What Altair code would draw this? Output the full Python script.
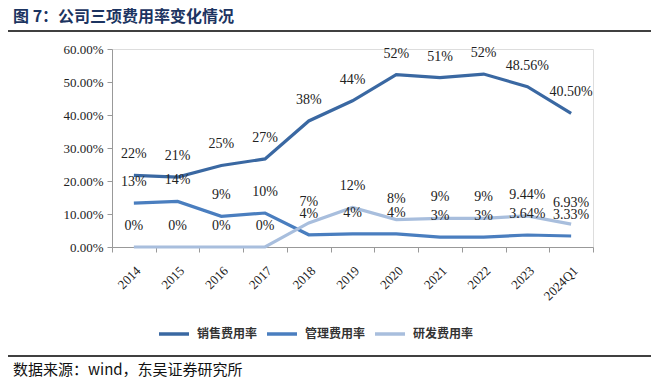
import altair as alt
import pandas as pd

categories = ["2014", "2015", "2016", "2017", "2018", "2019", "2020", "2021", "2022", "2023", "2024Q1"]
series_names = ["销售费用率", "管理费用率", "研发费用率"]

sales_values = [21.7, 21.2, 24.7, 26.7, 38.2, 44.3, 52.2, 51.3, 52.4, 48.56, 40.50]
admin_values = [13.3, 13.8, 9.3, 10.3, 3.7, 4.0, 4.0, 3.0, 3.0, 3.64, 3.33]
rd_values = [0.0, 0.0, 0.0, 0.0, 7.3, 12.0, 8.3, 8.7, 8.7, 9.44, 6.93]

sales_labels = ["22%", "21%", "25%", "27%", "38%", "44%", "52%", "51%", "52%", "48.56%", "40.50%"]
admin_labels = ["13%", "14%", "9%", "10%", "4%", "4%", "4%", "3%", "3%", "3.64%", "3.33%"]
rd_labels = ["0%", "0%", "0%", "0%", "7%", "12%", "8%", "9%", "9%", "9.44%", "6.93%"]

y_ticks = [0, 10, 20, 30, 40, 50, 60]
colors = ["#3A68A2", "#4A7EBF", "#A8BEDD"]

title_text = "图 7：公司三项费用率变化情况"
source_text = "数据来源：wind，东吴证券研究所"

rows = []
for name, vals, labs in zip(series_names, [sales_values, admin_values, rd_values],
                            [sales_labels, admin_labels, rd_labels]):
    for c, v, l in zip(categories, vals, labs):
        rows.append({"cat": c, "series": name, "value": v, "label": l})
df = pd.DataFrame(rows)

serif = "Liberation Serif"
cjk = "Noto Sans CJK SC"

x_enc = alt.X("cat:N", sort=categories, scale=alt.Scale(paddingInner=0, paddingOuter=0),
              axis=alt.Axis(title=None, labelAngle=-45, tickBand="extent", labelFont=serif,
                            labelFontSize=13, labelColor="#222", domainColor="#999",
                            tickColor="#999", tickSize=5, labelPadding=12))
y_enc = alt.Y("value:Q", scale=alt.Scale(domain=[0, 60], nice=False),
              axis=alt.Axis(title=None, values=y_ticks, tickCount=7, grid=False, labelOverlap=False,
                            labelExpr="format(datum.value, '.2f') + '%'",
                            labelFont=serif, labelFontSize=13, labelColor="#222",
                            domainColor="#999", tickColor="#999", tickSize=5, labelPadding=4))

color_enc = alt.Color("series:N", sort=series_names,
                      scale=alt.Scale(domain=series_names, range=colors),
                      legend=alt.Legend(title=None, orient="none", direction="horizontal",
                                        legendX=45, legendY=268, symbolType="stroke",
                                        symbolSize=900, symbolStrokeWidth=3.5,
                                        labelFont=cjk, labelFontWeight="bold", labelFontSize=12,
                                        labelColor="#333", columnPadding=2, labelOffset=6))

lines = alt.Chart(df).mark_line(strokeWidth=3.2).encode(x=x_enc, y=y_enc, color=color_enc,
                                                           detail="series:N")
labels = alt.Chart(df).mark_text(dy=-21, font=serif, fontSize=14, color="#222").encode(
    x=x_enc, y=y_enc, text="label:N")

one = pd.DataFrame({"t": [title_text], "s": [source_text]})
title = alt.Chart(one).mark_text(align="left", baseline="middle", font=cjk, fontWeight="bold",
                                 fontSize=16, color="#1C3461").encode(
    x=alt.value(-99), y=alt.value(-32), text="t:N")
top_rule = alt.Chart(one).mark_rule(color="#000", strokeWidth=1.5).encode(
    x=alt.value(-107), x2=alt.value(539), y=alt.value(-18))
bottom_rule = alt.Chart(one).mark_rule(color="#000", strokeWidth=1.3).encode(
    x=alt.value(-107), x2=alt.value(539), y=alt.value(307))
source = alt.Chart(one).mark_text(align="left", baseline="middle", font=cjk, fontSize=15,
                                  color="#111").encode(
    x=alt.value(-99), y=alt.value(321), text="s:N")

chart = alt.layer(lines, labels, title, top_rule, bottom_rule, source).properties(
    width=481, height=198, autosize="none",
    padding={"left": 104, "top": 41, "right": 66, "bottom": 130},
).configure_view(stroke=None).configure(background="white")

chart.save("out.html", embed_options={"renderer": "svg", "actions": False})
